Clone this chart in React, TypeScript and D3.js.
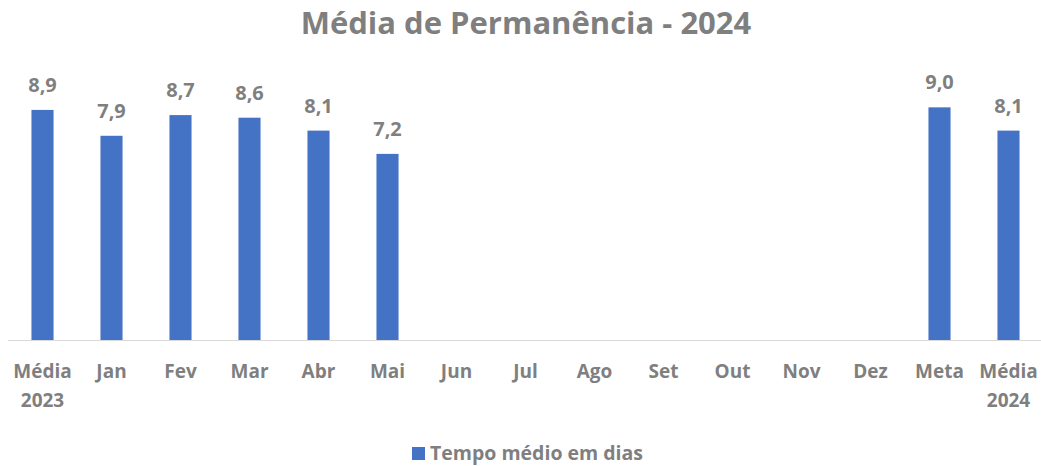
import React from "react";
import * as d3 from "d3";

const categories: string[][] = [
  ["Média", "2023"], ["Jan"], ["Fev"], ["Mar"], ["Abr"], ["Mai"], ["Jun"], ["Jul"],
  ["Ago"], ["Set"], ["Out"], ["Nov"], ["Dez"], ["Meta"], ["Média", "2024"],
];
const values: (number | null)[] = [8.9, 7.9, 8.7, 8.6, 8.1, 7.2, null, null, null, null, null, null, null, 9.0, 8.1];
const seriesName = "Tempo médio em dias";
const title = "Média de Permanência - 2024";

const W = 1041;
const H = 466;
const FONT = "'Open Sans', sans-serif";
const GRAY = "#7f7f7f";
const BLUE = "#4472C4";

export default function App() {
  const keys = categories.map((_, i) => String(i));
  const x = d3.scaleBand<string>().domain(keys).range([8, 1043]).paddingInner(0.68).paddingOuter(0.34);
  const y = d3.scaleLinear().domain([0, 10]).range([340, 81.5]);
  const fmt = (v: number) => d3.format(".1f")(v).replace(".", ",");
  return (
    <svg width={W} height={H} style={{ position: "fixed", left: 0, top: 0, background: "#fff" }}>
      <text x={526} y={34} textAnchor="middle" fontFamily={FONT} fontWeight={700} fontSize={31} fill={GRAY}>
        {title}
      </text>
      {values.map((v, i) =>
        v == null ? null : (
          <g key={i}>
            <rect x={x(keys[i])!} y={y(v)} width={x.bandwidth()} height={y(0) - y(v)} fill={BLUE} />
            <text
              x={x(keys[i])! + x.bandwidth() / 2}
              y={y(v) - 18}
              textAnchor="middle"
              fontFamily={FONT}
              fontWeight={700}
              fontSize={20}
              fill={GRAY}
            >
              {fmt(v)}
            </text>
          </g>
        )
      )}
      <line x1={8} x2={1041} y1={340.5} y2={340.5} stroke="#d9d9d9" strokeWidth={1} />
      {categories.map((lines, i) => (
        <text
          key={i}
          x={x(keys[i])! + x.bandwidth() / 2}
          y={378}
          textAnchor="middle"
          fontFamily={FONT}
          fontWeight={700}
          fontSize={19}
          fill={GRAY}
        >
          {lines.map((l, j) => (
            <tspan key={j} x={x(keys[i])! + x.bandwidth() / 2} dy={j === 0 ? 0 : 29}>
              {l}
            </tspan>
          ))}
        </text>
      ))}
      <rect x={412} y={447} width={13} height={13} fill={BLUE} />
      <text x={430} y={460} fontFamily={FONT} fontWeight={700} fontSize={19.5} fill={GRAY}>
        {seriesName}
      </text>
    </svg>
  );
}
